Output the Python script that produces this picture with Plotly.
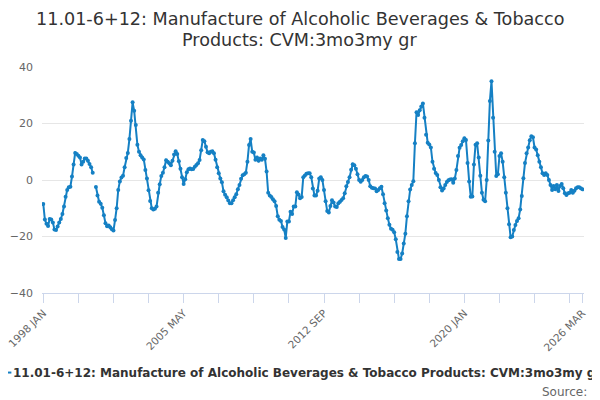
import plotly.graph_objects as go

START_YEAR = 1998
MONTHS = ["JAN", "FEB", "MAR", "APR", "MAY", "JUN",
          "JUL", "AUG", "SEP", "OCT", "NOV", "DEC"]

# monthly values, 1998 JAN .. 2026 MAR (None = missing)
values = [
    -8.5, -14, -15.5, -16.3, -13.8, -14, -15, -17.5, -17.7, -16.5, -15, -13.8,
    -12, -9.4, -5.9, -3.5, -2.6, -2.4, 1.2, 5.5, 9.6, 9.2, 8.6, 8.0,
    5.5, 6.5, 7.6, 7.6, 6.8, 5.7, 4.5, 2.6, None, -2.5, -5.5, -7.7,
    -8.4, -9.8, -12.5, -15.3, -16.4, -16.1, -16.7, -17.4, -17.9, -14.2, -10, -3.5,
    -0.5, 0.9, 1.5, 4.5, 7.8, 9.6, 14.5, 21, 27.5, 24.5, 19.5, 12.5,
    10, 8.8, 8.0, 7.3, 3.5, 0.5, -3.6, -7.4, -10, -10.4, -10.2, -9.4,
    -4.5, -1.5, 1.4, 2.6, 4.5, 7, 6.5, 5.9, 5.2, 6.8, 9, 10.2,
    9.2, 6.6, 4.0, 1.0, -1.4, 0.3, 2.7, 3.8, 4.1, 3.8, 3.9, 4.7,
    5.3, 5.9, 7.1, 10.5, 14.2, 13.7, 11.8, 9.8, 9.5, 10, 10.2, 9.5,
    7.2, 4.5, 2.4, 0.5, -0.8, -4, -5.2, -6.1, -7.3, -8.2, -8.2, -7.2,
    -6.1, -5, -3.3, -1.8, 0.4, 1.7, 2.0, 2.6, 6.5, 12.4, 14.5, 10.0,
    9.7, 7.2, 8.0, 6.8, 7.6, 7.2, 8.8, 7.5, 3.0, -4.5, -5.5, -6.0,
    -6.8, -7.5, -9.2, -12.8, -14.1, -14.5, -16.6, -17.5, -20.5, -14.7, -14.7, -11.2,
    -12, -9.4, -9.4, -4.3, -5.1, -6.5, -6, 1.0, 1.6, 2.2, 2.4, 2.4,
    1.0, -3, -5.5, -5.5, -3.8, 0.5, 1.0, 0, -3.5, -7.5, -11, -11.5,
    -9.2, -7.2, -8, -9.4, -9.6, -8.2, -7.7, -7.1, -6.5, -4.7, -2.2, -0.7,
    1.0, 3.6, 5.6, 5.2, 4.0, 2.0, 0, -0.6, 0, 1.0, 1.4, 1.2,
    0, -2.2, -2.7, -2.9, -3.0, -4.0, -3.5, -2.9, -2.4, -5, -8.2, -10.8,
    -13.5, -15.8, -17.3, -17.6, -18.5, -21, -25.5, -28, -28, -26, -22.5, -19,
    -12.8, -7.5, -3.4, -1.8, -0.4, 13, 24, 23, 24.7, 26, 27.1, 22,
    16, 13.2, 12.6, 11.5, 6.5, 4, 2.5, 1.8, 0, -2.6, -3.7, -3,
    -1.8, -0.7, -0.1, 0.2, 0.3, -1.0, 0.5, 3.5, 8.5, 11.4, 12.4, 13.7,
    14.8, 14.2, 6, -0.5, -5.9, -5.8, 5.5, 12.5, 13.0, 8, 1.5, -4.5,
    -7, -7.5, 0, 14, 28, 35, 22, 10, 1.4, 2, 8.5, 9.5,
    6.5, 1, -4.5, -10, -15.7, -20.3, -20, -17.7, -15.9, -14.5, -13.5, -10.4,
    -5.7, 0.6, 6, 9.5, 11.5, 14.1, 15.5, 15.1, 11.5, 10.8, 8.8, 6.5,
    4.5, 2.4, 1.8, 2.4, 1.8, 0, -1.8, -3.5, -2.1, -3.3, -1.8, -3.9,
    -2.1, -1.4, -2.9, -4.7, -5.3, -4.7, -4.5, -3.5, -4.5, -3.8, -2.9, -2.6,
    -2.6, -2.9, -3.3,
]

labels = [f"{START_YEAR + k // 12} {MONTHS[k % 12]}" for k in range(len(values))]

# tick marks every 22 months plus the last month, text on every 4th
tick_idx = list(range(0, len(values), 22)) + [len(values) - 1]
tick_text = [labels[k] if (k % 88 == 0 or k == len(values) - 1) else "" for k in tick_idx]

series_name = "11.01-6+12: Manufacture of Alcoholic Beverages & Tobacco Products: CVM:3mo3my gr"
title_lines = ["11.01-6+12: Manufacture of Alcoholic Beverages & Tobacco",
               "Products: CVM:3mo3my gr"]

line_color = "#1580c4"

fig = go.Figure()
fig.add_trace(go.Scatter(
    x=list(range(len(values))),
    y=values,
    mode="lines+markers",
    line={"color": line_color, "width": 2},
    marker={"color": line_color, "size": 4},
    connectgaps=False,
    name=series_name,
    showlegend=False,
))

# page body adds an 8px offset, so the figure is 592x392
fig.update_layout(
    width=592,
    height=392,
    margin={"l": 34, "r": 16, "t": 59, "b": 107, "autoexpand": False},
    paper_bgcolor="white",
    plot_bgcolor="white",
    font={"family": "DejaVu Sans", "color": "#333333"},
    xaxis={
        "range": [-0.8, 339],
        "tickmode": "array",
        "tickvals": tick_idx,
        "ticktext": tick_text,
        "tickangle": -45,
        "ticks": "outside",
        "ticklen": 9,
        "tickcolor": "#ccd6eb",
        "showline": True,
        "linecolor": "#ccd6eb",
        "linewidth": 1,
        "showgrid": False,
        "zeroline": False,
        "ticklabeloverflow": "allow",
        "tickfont": {"size": 10.5, "color": "#666666"},
    },
    yaxis={
        "range": [-40, 40],
        "tickvals": [-40, -20, 0, 20, 40],
        "showgrid": True,
        "gridcolor": "#e6e6e6",
        "zeroline": False,
        "showline": False,
        "tickfont": {"size": 11, "color": "#666666"},
        "ticklabelstandoff": 8,
    },
)

# two-line title, tighter line spacing than plotly's default
for text, ypos in zip(title_lines, [1.211, 1.121]):
    fig.add_annotation(text=text, xref="paper", yref="paper",
                       x=0.476, y=ypos, xanchor="center", yanchor="middle",
                       showarrow=False, font={"size": 17.6, "color": "#333333"})

# legend row (text runs past the right edge like the original)
fig.add_shape(type="line", xref="paper", yref="paper",
              x0=-0.0627, x1=-0.0565, y0=-0.352, y1=-0.352,
              line={"color": line_color, "width": 2})
fig.add_annotation(text=f"<b>{series_name}</b>", xref="paper", yref="paper",
                   x=-0.057, y=-0.352, xanchor="left", yanchor="middle",
                   showarrow=False, font={"size": 12, "color": "#333333"})
fig.add_annotation(text="Source:", xref="paper", yref="paper",
                   x=1.01, y=-0.44, xanchor="right", yanchor="middle",
                   showarrow=False, font={"size": 12, "color": "#666666"})

fig.write_html("out.html")
